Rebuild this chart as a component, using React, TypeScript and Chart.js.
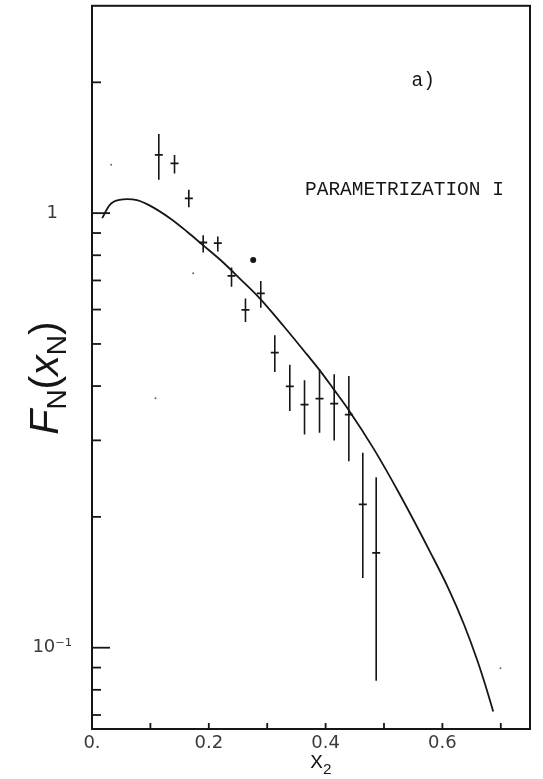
import React, { useEffect, useRef } from "react";
import { Chart, registerables } from "chart.js";

Chart.register(...registerables);

// ---- Data ----
const pointX = [0.1144, 0.1413, 0.1658, 0.1904, 0.2154, 0.2389, 0.2628, 0.289, 0.313, 0.3387, 0.3639, 0.3896, 0.4147, 0.4398, 0.4637, 0.4866];
const pointY = [1.362, 1.302, 1.081, 0.856, 0.853, 0.717, 0.599, 0.654, 0.4775, 0.3995, 0.3624, 0.3741, 0.3643, 0.3438, 0.2136, 0.1653];
const errUp = [1.521, 1.36, 1.132, 0.89, 0.884, 0.75, 0.636, 0.698, 0.5235, 0.448, 0.4123, 0.437, 0.4256, 0.4217, 0.2809, 0.2468];
const errLo = [1.193, 1.234, 1.032, 0.812, 0.816, 0.677, 0.562, 0.606, 0.4308, 0.3503, 0.3096, 0.3124, 0.2999, 0.2687, 0.1447, 0.0839];

const curveX = [0.0175, 0.029, 0.037, 0.06, 0.077, 0.1, 0.134, 0.163, 0.19, 0.22, 0.254, 0.288, 0.328, 0.368, 0.391, 0.414, 0.44, 0.483, 0.528, 0.58, 0.61, 0.637, 0.66, 0.677, 0.687];
const curveY = [0.974, 1.039, 1.062, 1.077, 1.071, 1.039, 0.972, 0.906, 0.844, 0.78, 0.705, 0.635, 0.55, 0.473, 0.433, 0.393, 0.3516, 0.286, 0.224, 0.1651, 0.1371, 0.1131, 0.0933, 0.0792, 0.0713];

const bigDotX = [0.276];
const bigDotY = [0.78];
const speckX = [0.0329, 0.1733, 0.1087, 0.6995];
const speckY = [1.292, 0.727, 0.3748, 0.0897];

const xTickValues = [0, 0.1, 0.2, 0.3, 0.4, 0.5, 0.6, 0.7];
const xTickLabels = ["0.", "", "0.2", "", "0.4", "", "0.6", ""];
const yTickValues = [0.07, 0.08, 0.09, 0.1, 0.2, 0.3, 0.4, 0.5, 0.6, 0.7, 0.8, 0.9, 1, 2];
const yTickLabels = ["", "", "", "10\u207B\u00B9", "", "", "", "", "", "", "", "", "1", ""];

const xTitleMain = "X";
const xTitleSub = "2";
const panelLabel = "a)";
const panelLabelPos = { x: 0.567, y: 2.02 };
const paramLabel = "PARAMETRIZATION I";
const paramLabelPos = { x: 0.535, y: 1.13 };

const INK = "#161616";

const framePlugin = {
  id: "frameAndText",
  afterDraw(chart: any) {
    const ctx = chart.ctx;
    const { left, right, top, bottom } = chart.chartArea;
    const xs = chart.scales.x;
    const ys = chart.scales.y;
    ctx.save();
    ctx.strokeStyle = INK;
    ctx.lineWidth = 2;
    ctx.strokeRect(left, top, right - left, bottom - top);
    ctx.lineWidth = 1.8;
    ys.ticks.forEach((t: any, i: number) => {
      const py = ys.getPixelForValue(t.value);
      const len = yTickLabels[i] ? 18 : 9;
      ctx.beginPath();
      ctx.moveTo(left, py);
      ctx.lineTo(left + len, py);
      ctx.stroke();
    });
    xs.ticks.forEach((t: any) => {
      const px = xs.getPixelForValue(t.value);
      if (px > left + 2 && px < right - 2) {
        ctx.beginPath();
        ctx.moveTo(px, bottom);
        ctx.lineTo(px, bottom - 6);
        ctx.stroke();
      }
    });

    ctx.fillStyle = INK;
    ctx.textBaseline = "middle";
    ctx.textAlign = "center";
    ctx.font = '19.5px "Liberation Mono", monospace';
    ctx.fillText(panelLabel, xs.getPixelForValue(panelLabelPos.x), ys.getPixelForValue(panelLabelPos.y));
    ctx.fillText(paramLabel, xs.getPixelForValue(paramLabelPos.x), ys.getPixelForValue(paramLabelPos.y));

    // x-axis title with subscript
    ctx.textBaseline = "alphabetic";
    ctx.textAlign = "left";
    const mainFont = '21px "Liberation Mono", monospace';
    const subFont = '15px "Liberation Mono", monospace';
    ctx.font = mainFont;
    const wMain = ctx.measureText(xTitleMain).width;
    ctx.font = subFont;
    const wSub = ctx.measureText(xTitleSub).width;
    const cx = (left + right) / 2 + 10;
    const sx = cx - (wMain + wSub) / 2;
    const base = 768;
    ctx.font = mainFont;
    ctx.fillText(xTitleMain, sx, base);
    ctx.font = subFont;
    ctx.fillText(xTitleSub, sx + wMain, base + 6);

    // y-axis title F_N(x_N), rotated
    const pieces = [
      { t: "F", f: 'italic 41px "Liberation Sans", sans-serif', dy: 0 },
      { t: "N", f: '28px "Liberation Sans", sans-serif', dy: 8 },
      { t: "(", f: '41px "Liberation Sans", sans-serif', dy: 0 },
      { t: "x", f: 'italic 41px "Liberation Sans", sans-serif', dy: 0 },
      { t: "N", f: '28px "Liberation Sans", sans-serif', dy: 8 },
      { t: ")", f: '41px "Liberation Sans", sans-serif', dy: 0 },
    ];
    let total = 0;
    const widths = pieces.map((p) => {
      ctx.font = p.f;
      const w = ctx.measureText(p.t).width;
      total += w;
      return w;
    });
    ctx.translate(43, 378);
    ctx.rotate(-Math.PI / 2);
    let u = -total / 2;
    pieces.forEach((p, i) => {
      ctx.font = p.f;
      ctx.fillText(p.t, u, 14.5 + p.dy);
      u += widths[i];
    });
    ctx.restore();
  },
};

export default function App() {
  const ref = useRef<HTMLCanvasElement>(null);
  useEffect(() => {
    if (!ref.current) return;
    const errData: any[] = [];
    pointX.forEach((x, i) => {
      errData.push({ x, y: errLo[i] });
      errData.push({ x, y: errUp[i] });
      errData.push({ x, y: null });
    });
    const chart = new Chart(ref.current, {
      type: "scatter",
      data: {
        datasets: [
          {
            type: "line",
            data: curveX.map((x, i) => ({ x, y: curveY[i] })),
            borderColor: INK,
            borderWidth: 1.8,
            pointRadius: 0,
            cubicInterpolationMode: "monotone",
            fill: false,
          } as any,
          {
            type: "line",
            data: errData,
            borderColor: INK,
            borderWidth: 1.6,
            pointRadius: 0,
            spanGaps: false,
            tension: 0,
            fill: false,
          } as any,
          {
            data: pointX.map((x, i) => ({ x, y: pointY[i] })),
            pointStyle: "line",
            pointRadius: 4,
            borderColor: INK,
            borderWidth: 1.8,
            backgroundColor: INK,
          },
          {
            data: bigDotX.map((x, i) => ({ x, y: bigDotY[i] })),
            pointStyle: "circle",
            pointRadius: 3,
            borderWidth: 0,
            backgroundColor: INK,
          },
          {
            data: speckX.map((x, i) => ({ x, y: speckY[i] })),
            pointStyle: "circle",
            pointRadius: 1,
            borderWidth: 0,
            backgroundColor: "#666",
          },
        ],
      },
      options: {
        animation: false,
        responsive: false,
        maintainAspectRatio: false,
        layout: { padding: { top: 5, right: 13, left: 0, bottom: 0 } },
        plugins: { legend: { display: false }, tooltip: { enabled: false } },
        scales: {
          x: {
            type: "linear",
            min: 0,
            max: 0.75,
            afterFit: (s: any) => {
              s.height = 50;
              s.paddingLeft = 0;
              s.paddingRight = 0;
              s.paddingTop = 0;
              s.paddingBottom = 0;
            },
            afterBuildTicks: (s: any) => {
              s.ticks = xTickValues.map((v) => ({ value: v }));
            },
            grid: { display: false, drawTicks: false },
            border: { display: false },
            ticks: {
              autoSkip: false,
              maxRotation: 0,
              padding: 4,
              color: "#3a3a3a",
              font: { family: '"DejaVu Sans", sans-serif', size: 18 },
              callback: (_v: any, i: number) => xTickLabels[i] ?? "",
            },
          },
          y: {
            type: "logarithmic",
            min: 0.065,
            max: 3,
            afterFit: (s: any) => {
              s.width = 92;
              s.paddingLeft = 0;
              s.paddingRight = 0;
              s.paddingTop = 0;
              s.paddingBottom = 0;
            },
            afterBuildTicks: (s: any) => {
              s.ticks = yTickValues.map((v) => ({ value: v }));
            },
            grid: { display: false, drawTicks: false },
            border: { display: false },
            ticks: {
              autoSkip: false,
              crossAlign: "center",
              padding: 20,
              color: "#3a3a3a",
              font: { family: '"DejaVu Sans", sans-serif', size: 18 },
              callback: (_v: any, i: number) => yTickLabels[i] ?? "",
            },
          },
        },
      },
      plugins: [framePlugin],
    } as any);
    return () => chart.destroy();
  }, []);
  return (
    <div style={{ position: "fixed", left: 0, top: 0, width: 543, height: 779, background: "#fff" }}>
      <canvas ref={ref} width={543} height={779} style={{ display: "block" }} />
    </div>
  );
}
